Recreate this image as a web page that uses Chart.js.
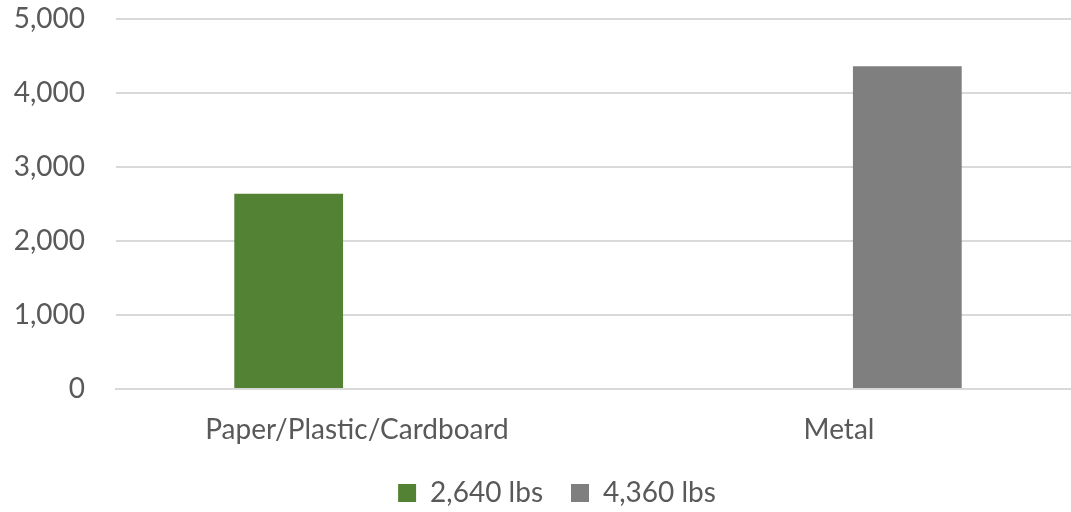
<!DOCTYPE html>
<html>
<head>
<meta charset="utf-8">
<script src="https://cdn.jsdelivr.net/npm/chart.js@4.4.1/dist/chart.umd.min.js"></script>
<style>
    html, body { margin: 0; padding: 0; background: #fff; }
    #wrap { width: 1071px; height: 512px; overflow: hidden; }
</style>
</head>
<body>
<div id="wrap"><canvas id="recycleChart" width="1115" height="512"></canvas></div>
<script>
(function(){
    "use strict";

    // Chart data
    const categories = ['Paper/Plastic/Cardboard', 'Metal'];
    const seriesNames = ['2,640 lbs', '4,360 lbs'];
    const paperValues = [2640, null];
    const metalValues = [null, 4360];
    const yTicks = [0, 1000, 2000, 3000, 4000, 5000];

    const textColor = '#595959';
    const gridColor = '#d9d9d9';
    const font = { family: 'Lato', size: 28 };

    // nudge the legend so it sits centred like the original
    const legendShift = {
        id: 'legendShift',
        afterLayout(chart) {
            const lg = chart.legend;
            if (lg) { lg.left += 17; lg.right += 17; }
        }
    };

    const ctx = document.getElementById('recycleChart').getContext('2d');
    new Chart(ctx, {
        type: 'bar',
        data: {
            labels: categories,
            datasets: [
                {
                    label: seriesNames[0],
                    backgroundColor: '#548235',
                    data: paperValues,
                    categoryPercentage: 0.567,
                    barPercentage: 0.796,
                }, {
                    label: seriesNames[1],
                    backgroundColor: '#7f7f7f',
                    data: metalValues,
                    categoryPercentage: 0.567,
                    barPercentage: 0.796,
                }
            ]
        },
        options: {
            responsive: false,
            animation: false,
            layout: { padding: { top: 0, left: 0, right: 35, bottom: -5 } },
            scales: {
                x: {
                    afterFit: axis => { axis.height = 62; },
                    grid: { display: false, drawTicks: false },
                    border: { color: gridColor, width: 2 },
                    ticks: { color: textColor, font: font, padding: 24 }
                },
                y: {
                    min: yTicks[0],
                    max: yTicks[yTicks.length - 1],
                    afterBuildTicks: axis => { axis.ticks = yTicks.map(v => ({ value: v })); },
                    afterFit: axis => { axis.width = 116; axis.paddingTop = 19; },
                    grid: { color: gridColor, lineWidth: 2, drawTicks: false },
                    border: { display: false },
                    ticks: { color: textColor, font: font, padding: 31 }
                }
            },
            plugins: {
                legend: {
                    position: 'bottom',
                    labels: {
                        color: textColor,
                        font: font,
                        boxWidth: 18,
                        boxHeight: 18,
                        padding: 28
                    }
                },
                tooltip: { enabled: false }
            }
        },
        plugins: [legendShift]
    });
})();
</script>
</body>
</html>
